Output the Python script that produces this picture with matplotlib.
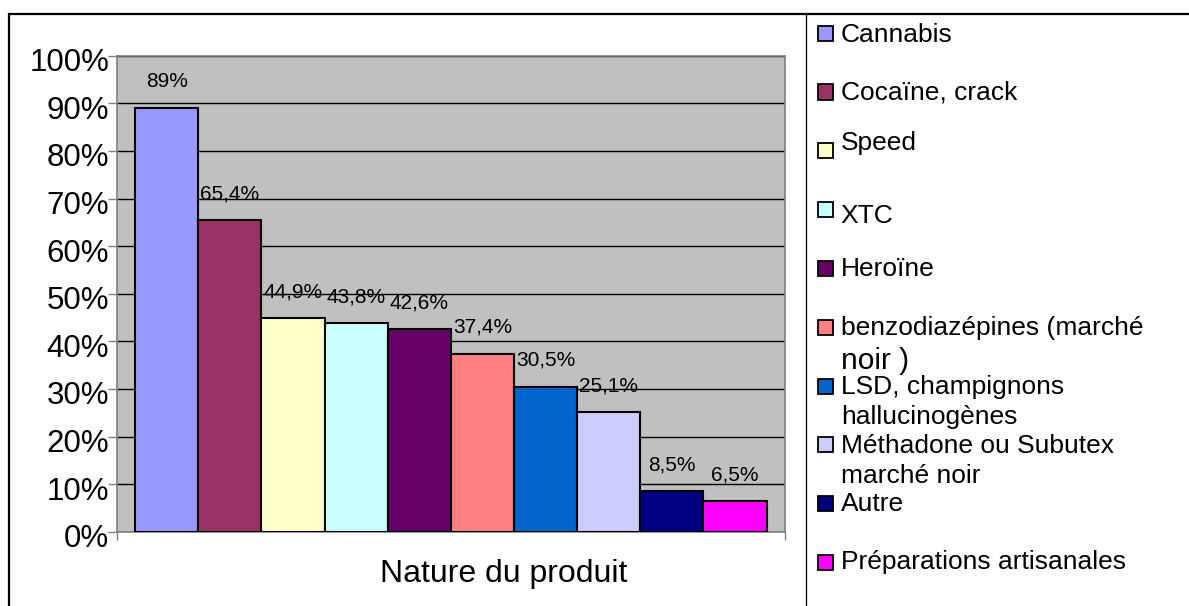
import matplotlib
matplotlib.use('Agg')
import matplotlib.pyplot as plt
from matplotlib.patches import Rectangle
from matplotlib.lines import Line2D
from matplotlib.ticker import PercentFormatter
from matplotlib.transforms import ScaledTranslation

plt.rcParams['font.family'] = ['Liberation Sans', 'DejaVu Sans']

# ------------------------------------------------------- #
# Donnees

produits = ['Cannabis', 'Cocaïne, crack', 'Speed', 'XTC', 'Heroïne',
            'benzodiazépines (marché\nnoir )',
            'LSD, champignons\nhallucinogènes',
            'Méthadone ou Subutex\nmarché noir',
            'Autre', 'Préparations artisanales']
pourcentages = [89, 65.4, 44.9, 43.8, 42.6, 37.4, 30.5, 25.1, 8.5, 6.5]
couleurs = ['#9999FF', '#993366', '#FFFFCC', '#CCFFFF', '#660066',
            '#FF8080', '#0066CC', '#CCCCFF', '#000080', '#FF00FF']
yticks = [0, 10, 20, 30, 40, 50, 60, 70, 80, 90, 100]

W, H = 1189, 606


def fx(px):
    return px / W


def fy(py):
    return 1 - py / H


# ------------------------------------------------------- #
# Figure

fig = plt.figure(figsize=(W / 100, H / 100), dpi=100)
ax = fig.add_axes([fx(116.7), fy(531.7), fx(785 - 116.7), (531.7 - 55.7) / H])
ax.set_facecolor('#C0C0C0')

n = len(pourcentages)
bar_w = 0.0945
left0 = (1 - n * bar_w) / 2
xs = [left0 + (i + 0.5) * bar_w for i in range(n)]

ax.bar(xs, pourcentages, width=bar_w, color=couleurs,
       edgecolor='black', linewidth=1.5, zorder=3)

for x, v in zip(xs, pourcentages):
    txt = f'{v:g}'.replace('.', ',') + '%'
    ax.text(x, v + 5.5, txt, ha='center', va='center', fontsize=15, zorder=4)

ax.set_xlim(0, 1)
ax.set_ylim(0, 100)
ax.set_yticks(yticks)
ax.yaxis.set_major_formatter(PercentFormatter(decimals=0))
ax.yaxis.grid(True, color='black', linewidth=1)
ax.set_axisbelow(True)

ax.set_xticks([0, 1])
ax.set_xticklabels([])
ax.tick_params(axis='x', length=6, width=1, color='#808080')
ax.tick_params(axis='y', length=6.5, width=1, color='#808080',
               labelsize=22.5, pad=-1)

for sp in ax.spines.values():
    sp.set_color('#808080')
    sp.set_linewidth(1.2)

# etiquettes un peu plus bas que les traits
off = ScaledTranslation(0, -0.04, fig.dpi_scale_trans)
for lab in ax.get_yticklabels():
    lab.set_transform(lab.get_transform() + off)

fig.text(fx(504), fy(581.7), 'Nature du produit', ha='center',
         va='baseline', fontsize=23)

# ------------------------------------------------------- #
# Legende

leg_top = 40.7
leg_step = 58.8
text_dy = [1, 0, -8, 5.7, 0, 0, 0.5, 1, 0, -0.5]

for i, (nom, c) in enumerate(zip(produits, couleurs)):
    yb = leg_top + i * leg_step
    fig.add_artist(Rectangle((fx(817.7), fy(yb)), fx(15), 15 / H,
                             transform=fig.transFigure, facecolor=c,
                             edgecolor='black', linewidth=1.3))
    lignes = nom.split('\n')
    fig.text(fx(840.7), fy(yb + text_dy[i]), lignes[0],
             va='baseline', ha='left', fontsize=19)
    for j, l in enumerate(lignes[1:]):
        if l.startswith('noir'):
            fig.text(fx(840.7), fy(yb + 34), l, va='baseline', fontsize=21.5)
        else:
            fig.text(fx(840.7), fy(yb + text_dy[i] + 30 * (j + 1)), l,
                     va='baseline', fontsize=19)
    # End for
# End for

# ------------------------------------------------------- #
# Cadre

fig.add_artist(Rectangle((fx(9), -0.05), 1.2, fy(14) + 0.05,
                         transform=fig.transFigure, facecolor='none',
                         edgecolor='black', linewidth=1.6))
fig.add_artist(Line2D([fx(806), fx(806)], [0, fy(14)],
                      transform=fig.transFigure, color='black', linewidth=0.9))

fig.savefig('out.png', dpi=100)
